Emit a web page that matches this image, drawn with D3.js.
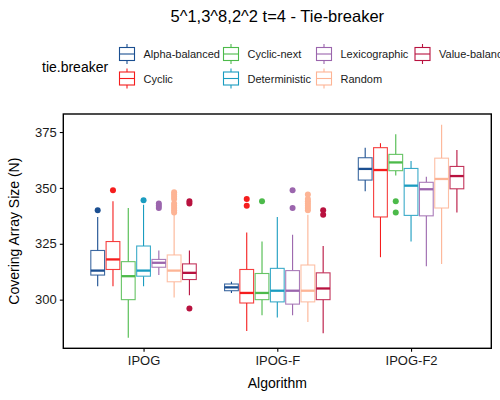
<!DOCTYPE html>
<html><head><meta charset="utf-8">
<script src="https://cdn.jsdelivr.net/npm/d3@7"></script>
<style>body{margin:0;background:#fff}svg{display:block;font-family:"Liberation Sans",Arial,sans-serif}</style>
</head><body>
<svg id="c" width="500" height="400"></svg>
<script>
// ---- data ----
const chartTitle = "5^1,3^8,2^2 t=4 - Tie-breaker";
const algorithms = ["IPOG", "IPOG-F", "IPOG-F2"];
const tieBreakers = ["Alpha-balanced", "Cyclic", "Cyclic-next", "Deterministic", "Lexicographic", "Random", "Value-balanced"];
const seriesColors = ["#1b4f91", "#f51d1d", "#4cba4a", "#1a9cc0", "#9b65ad", "#fdb495", "#b8123f"];
// five-number summaries [lowerWhisker, q1, median, q3, upperWhisker] per algorithm
const alphaBalanced = [[306, 311, 313, 322, 337], [303, 304, 305.5, 307, 308], [348.5, 353.5, 358.5, 363.5, 368]];
const cyclic        = [[306, 313.5, 318, 326, 344], [286, 298.5, 303, 313.5, 330], [319, 337, 358, 368, 370]];
const cyclicNext    = [[283, 300, 310.5, 317, 341], [293, 300, 303, 311.7, 326], [355.5, 357.7, 361.4, 365, 374]];
const deterministic = [[306, 310.5, 313, 324, 342.5], [292, 299, 304, 314, 337], [326, 337.7, 351, 358.7, 362]];
const lexicographic = [[311, 314.5, 316.5, 318, 322], [293, 298, 304, 313, 329], [315, 337.5, 349.4, 352.5, 355]];
const randomTB      = [[301, 308, 313, 320, 338], [290, 299, 304, 315.5, 338], [316, 341, 354, 363.3, 378.3]];
const valueBalanced = [[302, 309, 312, 316, 322], [285, 300, 305, 312, 324], [339, 349.6, 355.3, 359.6, 367]];
// outliers per algorithm
const alphaBalancedOut = [[340], [], []];
const cyclicOut        = [[349], [342, 345], []];
const cyclicNextOut    = [[], [344], [339, 344]];
const deterministicOut = [[344.5], [], []];
const lexicographicOut = [[341, 342, 343], [341, 349], []];
const randomOut        = [[339, 340, 341, 342, 343, 345, 346, 347, 348], [340, 341, 342, 343, 344, 345, 347], []];
const valueBalancedOut = [[296, 343, 344], [338, 340], []];
const yTicks = [300, 325, 350, 375];

const summaries = [alphaBalanced, cyclic, cyclicNext, deterministic, lexicographic, randomTB, valueBalanced];
const outliers = [alphaBalancedOut, cyclicOut, cyclicNextOut, deterministicOut, lexicographicOut, randomOut, valueBalancedOut];

// ---- layout ----
const svg = d3.select("#c");
const P = {l: 63.3, r: 491.3, t: 114, b: 348.3};

const allVals = [];
summaries.forEach((s, i) => s.forEach((a, j) => { allVals.push(a[0], a[4]); outliers[i][j].forEach(v => allVals.push(v)); }));
const [mn, mx] = d3.extent(allVals);
const pad = (mx - mn) * 0.05;
const y = d3.scaleLinear().domain([mn - pad, mx + pad]).range([P.b, P.t]);
const x = d3.scalePoint().domain(algorithms).range([P.l, P.r]).padding(0.6);
const inner = d3.scaleBand().domain(tieBreakers).range([-0.4 * x.step(), 0.4 * x.step()]);
const bw = inner.bandwidth() * 0.9;

const g = svg.append("g");
tieBreakers.forEach((tb, i) => {
  const col = seriesColors[i];
  algorithms.forEach((alg, j) => {
    const [lo, q1, med, q3, hi] = summaries[i][j];
    const cx = x(alg) + inner(tb) + inner.bandwidth() / 2;
    const gg = g.append("g");
    gg.append("line").attr("x1", cx).attr("x2", cx).attr("y1", y(hi)).attr("y2", y(q3))
      .attr("stroke", col).attr("stroke-width", 1.1);
    gg.append("line").attr("x1", cx).attr("x2", cx).attr("y1", y(q1)).attr("y2", y(lo))
      .attr("stroke", col).attr("stroke-width", 1.1);
    gg.append("rect").attr("x", cx - bw / 2).attr("width", bw)
      .attr("y", y(q3)).attr("height", y(q1) - y(q3))
      .attr("fill", "#fff").attr("stroke", col).attr("stroke-width", 1.1).attr("stroke-opacity", 0.85);
    gg.append("line").attr("x1", cx - bw / 2).attr("x2", cx + bw / 2).attr("y1", y(med)).attr("y2", y(med))
      .attr("stroke", col).attr("stroke-width", 2.3);
    outliers[i][j].forEach(v => {
      gg.append("circle").attr("cx", cx).attr("cy", y(v)).attr("r", 3).attr("fill", col);
    });
  });
});

// panel border
svg.append("rect").attr("x", P.l).attr("y", P.t).attr("width", P.r - P.l).attr("height", P.b - P.t)
  .attr("fill", "none").attr("stroke", "#000").attr("stroke-width", 1.4);

// axes
const yAxis = svg.append("g").attr("transform", `translate(${P.l},0)`)
  .call(d3.axisLeft(y).tickValues(yTicks).tickSize(3.5).tickPadding(3));
const xAxis = svg.append("g").attr("transform", `translate(0,${P.b})`)
  .call(d3.axisBottom(x).tickSize(3.5).tickPadding(4));
[yAxis, xAxis].forEach(a => {
  a.select(".domain").remove();
  a.selectAll(".tick line").attr("stroke", "#000").attr("stroke-width", 1.1);
  a.selectAll(".tick text").attr("fill", "#1a1a1a").style("font-size", "13px").style("font-family", "'Liberation Sans',Arial,sans-serif");
});

// titles
svg.append("text").attr("x", (P.l + P.r) / 2).attr("y", 22).attr("text-anchor", "middle")
  .style("font-size", "16.5px").attr("fill", "#000").text(chartTitle);
svg.append("text").attr("x", (P.l + P.r) / 2).attr("y", 388).attr("text-anchor", "middle")
  .style("font-size", "14px").attr("fill", "#000").text("Algorithm");
svg.append("text").attr("transform", `translate(19,${(P.t + P.b) / 2}) rotate(-90)`).attr("text-anchor", "middle")
  .style("font-size", "14px").attr("fill", "#000").text("Covering Array Size (N)");

// legend
svg.append("text").attr("x", 42).attr("y", 72).style("font-size", "14px").attr("fill", "#000").text("tie.breaker");
const colX = [118.5, 222.5, 315.5, 414];
const rowY = [54, 78.5];
tieBreakers.forEach((tb, i) => {
  const c = Math.floor(i / 2), r = i % 2;
  const kx = colX[c], ky = rowY[r], col = seriesColors[i];
  const lg = svg.append("g");
  const kc = kx + 8.5;
  lg.append("line").attr("x1", kc).attr("x2", kc).attr("y1", ky - 10).attr("y2", ky + 10).attr("stroke", col).attr("stroke-width", 1.1);
  lg.append("rect").attr("x", kx + 1).attr("y", ky - 6.5).attr("width", 15).attr("height", 13)
    .attr("fill", "#fff").attr("stroke", col).attr("stroke-width", 1.1);
  lg.append("line").attr("x1", kx + 1).attr("x2", kx + 16).attr("y1", ky).attr("y2", ky).attr("stroke", col).attr("stroke-width", 1.1);
  lg.append("text").attr("x", kx + 25).attr("y", ky + 4).style("font-size", "11px").attr("fill", "#1a1a1a").text(tb);
});
</script>
</body></html>
